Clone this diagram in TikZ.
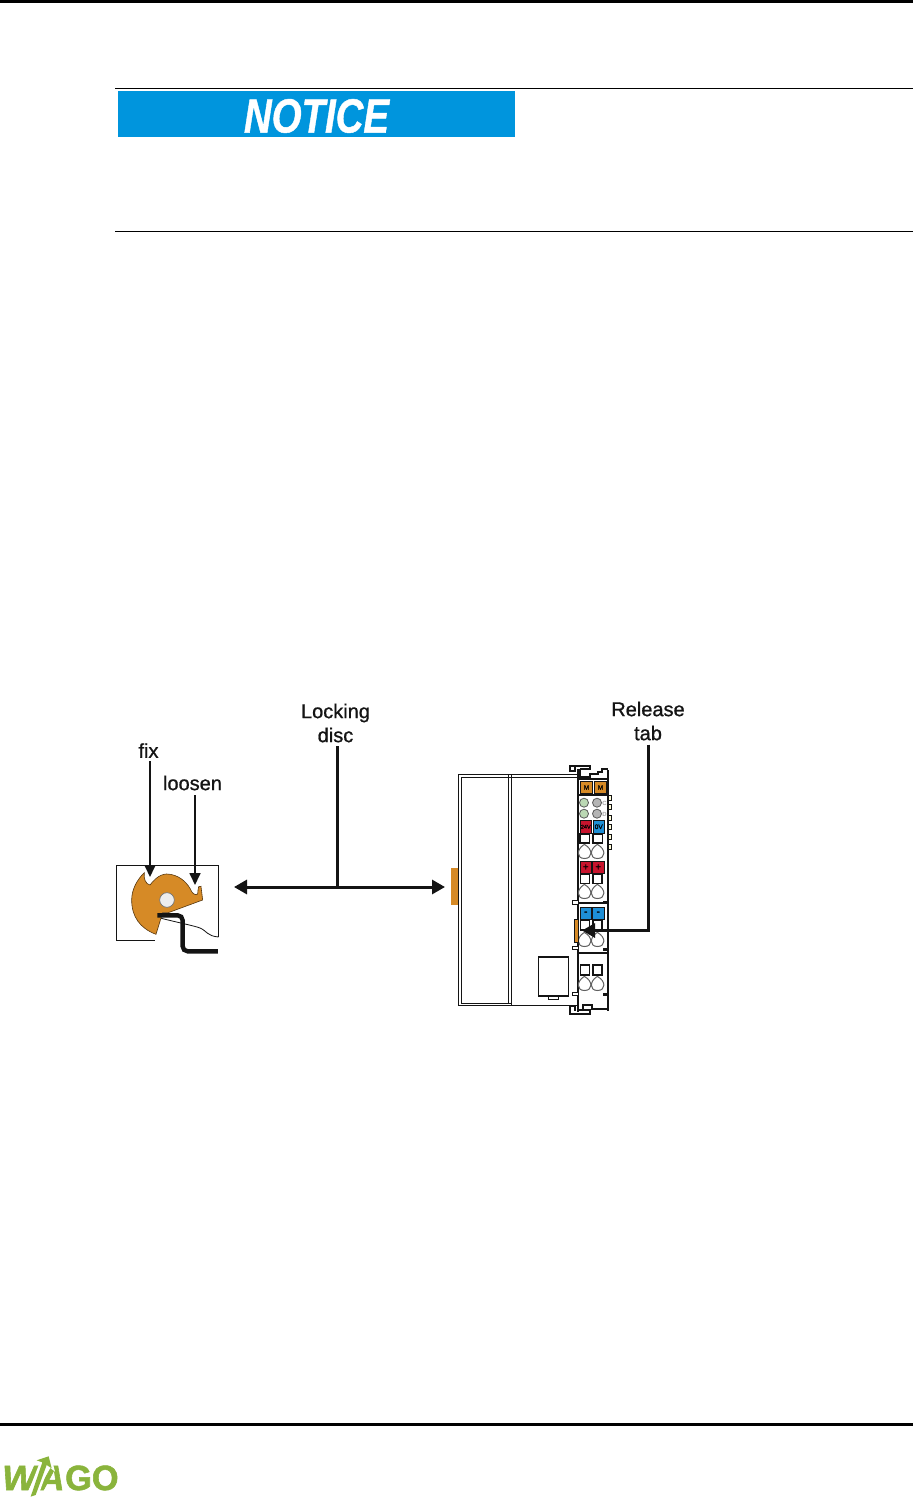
\documentclass[tikz,border=0pt]{standalone}
\usepackage{fontspec}
\setmainfont{Liberation Sans}
\newfontfamily\lblfont[FakeBold=0.9]{Liberation Sans}
\newfontfamily\keyfont[FakeBold=1.2]{Liberation Sans}
\newfontfamily\noticefont[FakeBold=1.0]{Liberation Sans Bold Italic}
\newfontfamily\logofont[FakeBold=1.6]{Liberation Sans Bold}
\newfontfamily\logoifont[FakeBold=1.6]{Liberation Sans Bold Italic}
\usetikzlibrary{arrows.meta}
\definecolor{noticeblue}{HTML}{0095DD}
\definecolor{discorange}{HTML}{D68A26}
\definecolor{keyred}{HTML}{C8142D}
\definecolor{keyblue}{HTML}{1E8FD6}
\definecolor{ledgreen}{HTML}{BBD8B4}
\definecolor{ledgrey}{HTML}{B5B5B5}
\definecolor{wagogreen}{HTML}{8AB43C}
\definecolor{ink}{HTML}{141414}
\tikzset{
  lbl/.style={font=\lblfont\fontsize{20}{24}\selectfont,text=ink,inner sep=0pt,align=center},
  thinarrow/.style={draw=ink,line width=1.7pt,-{Triangle[length=12pt,width=11pt]}},
  bigarrow/.style={draw=ink,line width=3pt,-{Triangle[length=13pt,width=14pt]}},
  wall/.style={draw=ink,line width=2.4pt},
  bodyline/.style={draw=ink,line width=1.3pt},
  led/.style={draw=black!65,line width=.8pt},
  keybox/.style={draw=ink,line width=1pt,minimum width=11.5pt,minimum height=12.5pt,inner sep=0pt,anchor=north west,text=black},
  keytxt/.style={font=\keyfont\fontsize{6.5}{7}\selectfont},
  keysym/.style={font=\keyfont\fontsize{10}{10}\selectfont},
  whitesq/.style={draw=ink,line width=1.1pt,fill=white},
  tear/.style={draw=black!62,line width=1pt,fill=white},
  sidetab/.style={draw=ink,line width=.8pt,fill=yellow!15},
  disc/.style={draw=black!60!discorange,line width=.6pt,fill=discorange},
  logotxt/.style={text=wagogreen,inner sep=0pt,anchor=base west}
}
\newcommand{\tearpin}[2]{%
  \path[tear] (#1,#2+6.5) .. controls (#1-8.5,#2+6.5) and (#1-7.5,#2-3) .. (#1-1,#2-7)
     -- (#1,#2-7.5) .. controls (#1+8.5,#2-3) and (#1+8.5,#2+6.5) .. (#1,#2+6.5) -- cycle;
}
\begin{document}
\begin{tikzpicture}[x=1pt,y=-1pt]
\useasboundingbox (0,0) rectangle (913,1498);
\fill[white] (0,0) rectangle (913,1498);

% page rules
\path[draw=black,line width=3pt] (0,1.2) -- (913,1.2);
\path[draw=black,line width=1pt] (115,88.5) -- (913,88.5);
\path[draw=black,line width=1pt] (115,231.5) -- (913,231.5);
\path[draw=black,line width=3pt] (0,1424.5) -- (913,1424.5);

% notice banner
\node[fill=noticeblue,minimum width=397pt,minimum height=46pt,inner sep=0pt,anchor=north west] (banner) at (118,91) {};
\node[text=white,inner sep=0pt] (noticetxt) at (316.5,116) {\scalebox{.80}[1]{\fontsize{48}{50}\selectfont\noticefont NOTICE}};

% left detail: box
\path[draw=ink,line width=1pt] (154.7,940) -- (116.5,940) -- (116.5,865.5) -- (218.5,865.5) -- (218.5,937);
% thin wire
\path[draw=ink,line width=.8pt] (160,918) .. controls (180,923) and (195,926) .. (200,928) .. controls (207,931) and (207,936) .. (218.5,937);
% disc
\begin{scope}[shift={(100,690)},x=.3333pt,y=-.3333pt]
\path[disc] (168,733) .. controls (120,715) and (95,680) .. (95,630)
  .. controls (95,600) and (110,570) .. (133,548)
  .. controls (130,565) and (137,583) .. (150,585)
  .. controls (158,575) and (175,553) .. (200,552)
  .. controls (235,553) and (258,575) .. (270,595)
  .. controls (276,610) and (285,618) .. (293,612)
  .. controls (296,605) and (292,595) .. (296,590)
  -- (303,589) -- (308,630) -- (205,668) -- (188,668) -- cycle;
\path[draw=black!55,line width=.7pt,fill=black!7] (201,630) circle (22);
\path[draw=ink,line width=4.4pt,rounded corners=5pt] (172,676) -- (248,676) -- (248,784) -- (354,784);
\end{scope}

% device body
\path[bodyline] (577,774.5) -- (458.5,774.5) -- (458.5,1005.5) -- (577,1005.5);
\path[bodyline] (577,777.5) -- (461.5,777.5) -- (461.5,1003.5) -- (511.5,1003.5);
\path[bodyline] (508.5,774.5) -- (508.5,1003.5);
\path[bodyline] (511.5,774.5) -- (511.5,1005.5);
\node[fill=discorange,minimum width=7pt,minimum height=37pt,inner sep=0pt,anchor=north west] (disctab) at (451,868) {};
% label box on body
\path[draw=ink,line width=1.2pt] (538.5,957) rectangle (568.5,996);
\path[draw=ink,line width=.8pt] (548.5,996) rectangle (558.5,999);

% module walls
\path[wall,line width=1.4pt] (570,772) -- (570,766) -- (590,766) -- (590,769) -- (580,769);
\path[wall,line width=1.4pt] (570,771) -- (575,771) -- (575,767);
\path[wall] (578,769) -- (578,1012);
\path[wall] (608,770) -- (608,1011);
\path[wall,line width=1.6pt] (580,769) -- (580,777) -- (590,777) -- (590,774) -- (598,774) -- (598,772) -- (602,772) -- (602,769) -- (608,769);
\path[wall,line width=1.6pt] (578,779) -- (608,779);
\path[wall] (578,795) -- (608,795);
\path[wall,line width=1.4pt] (578,903) -- (608,903);
\path[wall] (578,953) -- (608,953);
\path[wall,line width=1.4pt] (570,1006) -- (570,1014) -- (590,1014) -- (590,1010) -- (578,1010);
\path[wall,line width=1.4pt] (570,1006) -- (575,1006) -- (575,1011);
\path[wall,line width=1.6pt] (583,1011) -- (583,1005) -- (592,1005) -- (592,1009) -- (608,1009);
% left tabs
\foreach \ty in {900.7,946,992}{\path[draw=ink,line width=1pt,fill=white] (572,\ty) rectangle (578,\ty+3.6);}
% right small tabs
\foreach \ty in {795,804.5,815,824.5,834,844}{\path[sidetab] (608.8,\ty) rectangle (611,\ty+5);}
\foreach \ty in {901,948,993}{\path[fill=ink] (603,\ty) rectangle (608,\ty+3);}

% keys
\node[keybox,fill=discorange,minimum width=12pt,minimum height=12pt,keytxt] (ko1) at (580,781) {M};
\node[keybox,fill=discorange,minimum width=12pt,minimum height=12pt,keytxt] (ko2) at (594,781) {M};
\node[led,fill=ledgreen,circle,minimum size=9pt,inner sep=0pt] (l1) at (584,802.7) {};
\node[led,fill=ledgrey,circle,minimum size=9pt,inner sep=0pt] (l2) at (597,802.7) {};
\node[led,fill=ledgreen,circle,minimum size=9pt,inner sep=0pt] (l3) at (584,813.7) {};
\node[led,fill=ledgrey,circle,minimum size=9pt,inner sep=0pt] (l4) at (597,813.7) {};
\node[text=black!35,font=\bfseries\fontsize{6}{6}\selectfont,inner sep=0pt] (tc) at (604.5,803.5) {C};
\node[text=black!35,font=\bfseries\fontsize{6}{6}\selectfont,inner sep=0pt] (td) at (604.5,814.5) {D};
\node[keybox,fill=keyred,font=\keyfont\fontsize{5.5}{6}\selectfont] (kr1) at (579.5,820) {24V};
\node[keybox,fill=keyblue,keytxt] (kb1) at (592.5,820) {0V};
\foreach \sx in {580,593}{\path[whitesq] (\sx,834) rectangle (\sx+9.5,843);}
\tearpin{584.5}{852}
\tearpin{597.5}{852}
\node[keybox,fill=keyred,keysym] (kr2) at (579.5,860.5) {+};
\node[keybox,fill=keyred,keysym] (kr3) at (592,860.5) {+};
\foreach \sx in {580.5,593}{\path[whitesq] (\sx,874) rectangle (\sx+9,883.5);}
\tearpin{584.5}{892}
\tearpin{597.5}{892}
\node[keybox,fill=keyblue,keysym] (kb2) at (579.5,906.5) {-};
\node[keybox,fill=keyblue,keysym] (kb3) at (592,906.5) {-};
\foreach \sx in {580.5,593}{\path[whitesq] (\sx,920) rectangle (\sx+9,930);}
\tearpin{584.5}{940}
\tearpin{597.5}{940}
\node[fill=discorange,draw=ink,line width=.4pt,minimum width=3.5pt,minimum height=23pt,inner sep=0pt,anchor=north west] (rtab) at (574.2,919) {};
\foreach \sx in {580.5,593}{\path[whitesq] (\sx,965) rectangle (\sx+9,975);}
\tearpin{584.5}{984}
\tearpin{597.5}{984}

% labels
\node[lbl] (fix) at (148.5,750.5) {fix};
\node[lbl] (loosen) at (192.5,783) {loosen};
\node[lbl] (lock) at (335.5,723) {Locking\\disc};
\node[lbl] (rel) at (648,721) {Release\\tab};

% connectors
\coordinate (fixtip) at (150,877);
\coordinate (fixtop) at (150,761);
\coordinate (looseTip) at (195,885);
\coordinate (loosetop) at (195,795);
\draw[thinarrow] (fixtop) -- (fixtip);
\draw[thinarrow] (loosetop) -- (looseTip);
\coordinate (jn) at (337.5,887);
\coordinate (locktop) at (337.5,746);
\coordinate (tipL) at (234,887);
\coordinate (tipR) at (445,887);
\draw[draw=ink,line width=3pt] (locktop) -- (jn);
\draw[bigarrow,{Triangle[length=13pt,width=14pt]}-{Triangle[length=13pt,width=14pt]}] (tipL) -- (tipR);
\coordinate (reltop) at (648.5,744.5);
\coordinate (relcorner) at (648.5,930.5);
\coordinate (relTip) at (582,930.5);
\draw[bigarrow] (reltop) -- (relcorner) -- (relTip);

% logo
\node[logotxt] (logoW) at (2,1490) {\scalebox{1.05}[1]{\fontsize{35}{35}\selectfont\logoifont W}};
\node[logotxt] (logoA) at (39,1490) {\fontsize{35}{35}\selectfont\logoifont A};
\node[logotxt] (logoG) at (65,1490) {\scalebox{.98}[1]{\fontsize{35}{35}\selectfont\logofont GO}};
\begin{scope}[shift={(0,1415)},x=.3333pt,y=-.3333pt]
\path[fill=white] (78,250) -- (122,135) -- (100,130) -- (150,112) -- (165,170) -- (146,155) -- (112,250) -- cycle;
\path[fill=wagogreen] (92,245) -- (127,142) -- (110,136) -- (146,124) -- (155,160) -- (140,150) -- (107,240) -- cycle;
\end{scope}
\end{tikzpicture}
\end{document}
